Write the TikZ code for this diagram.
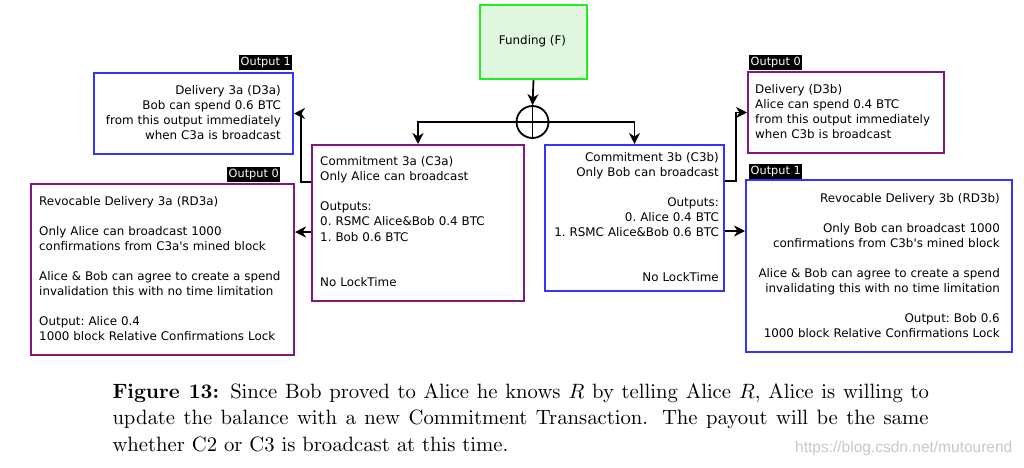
\documentclass[tikz,border=0pt]{standalone}
\usepackage{fontspec}
\newfontfamily\dv{DejaVu Sans}
\newfontfamily\wmfont{Liberation Sans}
\usetikzlibrary{arrows.meta}
\font\capr=cmr10 at 20.7pt
\font\capb=cmbx10 at 20.7pt
\font\capi=cmmi10 at 20.7pt
\definecolor{boxpurple}{RGB}{128,24,128}
\definecolor{boxblue}{RGB}{51,51,255}
\definecolor{boxgreen}{RGB}{34,238,34}
\definecolor{fundfill}{RGB}{223,247,223}
\definecolor{wmgray}{RGB}{200,200,200}
\begin{document}
\begin{tikzpicture}[x=1pt,y=-1pt,
  box/.style={draw, line width=2pt, inner sep=0pt, anchor=north west},
  pbox/.style={box, draw=boxpurple},
  bbox/.style={box, draw=boxblue},
  txt/.style={inner sep=0pt, font=\dv\fontsize{11.9}{15.1}\selectfont\frenchspacing, text width=#1},
  ltxt/.style={txt=#1, align=left, anchor=base west},
  rtxt/.style={txt=#1, align=right, anchor=base east},
  outlbl/.style={fill=black, text=white, inner xsep=1.5pt, inner ysep=1.5pt, text height=8.8pt, text depth=2.7pt, font=\dv\fontsize{11.3}{13}\selectfont, anchor=south west},
  conn/.style={line width=1.8pt, -{Stealth[length=11pt,width=11pt,inset=3.5pt]}},
]
\useasboundingbox (0,0) rectangle (1024,467);
\fill[white] (0,0) rectangle (1024,467);

% boxes
\node[box, draw=boxgreen, fill=fundfill, minimum width=107pt, minimum height=74pt] (fund) at (479,4) {};
\node[pbox, minimum width=212pt, minimum height=156pt] (c3a) at (311,144) {};
\node[bbox, minimum width=179pt, minimum height=146pt] (c3b) at (544,144) {};
\node[bbox, minimum width=199pt, minimum height=81pt] (d3a) at (93,72) {};
\node[pbox, minimum width=263pt, minimum height=171pt] (rd3a) at (30,183) {};
\node[pbox, minimum width=196pt, minimum height=81pt] (d3b) at (747,71) {};
\node[bbox, minimum width=266pt, minimum height=172pt] (rd3b) at (745,179) {};

% xor
\node[circle, draw, line width=1.8pt, minimum size=32pt, inner sep=0pt] (xor) at (532.5,122) {};
\draw[line width=1.8pt] (xor.north) -- (xor.south) (xor.west) -- (xor.east);

% output labels
\node[outlbl] (o1a) at (239,70) {Output 1};
\node[outlbl] (o0a) at (227,182) {Output 0};
\node[outlbl] (o0b) at (749,70) {Output 0};
\node[outlbl] (o1b) at (749,179) {Output 1};

% texts
\node[inner sep=0pt, font=\dv\fontsize{11.9}{15}\selectfont, anchor=base] (fundt) at (532.5,44) {Funding (F)};
\node[rtxt=200pt] (d3at) at (281,94) {Delivery 3a (D3a)\\Bob can spend 0.6 BTC\\from this output immediately\\when C3a is broadcast};
\node[ltxt=200pt] (c3at) at (320,165.5) {Commitment 3a (C3a)\\Only Alice can broadcast\\\mbox{}\\Outputs:\\0. RSMC Alice\&Bob 0.4 BTC\\1. Bob 0.6 BTC\\\mbox{}\\\mbox{}\\No LockTime};
\node[ltxt=250pt] (rd3at) at (39,205) {Revocable Delivery 3a (RD3a)\\\mbox{}\\Only Alice can broadcast 1000\\confirmations from C3a\textquotesingle s mined block\\\mbox{}\\Alice \& Bob can agree to create a spend\\invalidation this with no time limitation\\\mbox{}\\Output: Alice 0.4\\1000 block Relative Confirmations Lock};
\node[rtxt=175pt] (c3bt) at (719,161) {Commitment 3b (C3b)\\Only Bob can broadcast\\\mbox{}\\Outputs:\hspace*{3.5pt}\\0. Alice 0.4 BTC\\1. RSMC Alice\&Bob 0.6 BTC\\\mbox{}\\\mbox{}\\No LockTime};
\node[ltxt=190pt] (d3bt) at (755,93) {Delivery (D3b)\\Alice can spend 0.4 BTC\\from this output immediately\\when C3b is broadcast};
\node[rtxt=260pt] (rd3bt) at (1000,202) {Revocable Delivery 3b (RD3b)\\\mbox{}\\Only Bob can broadcast 1000\\confirmations from C3b\textquotesingle s mined block\\\mbox{}\\Alice \& Bob can agree to create a spend\\invalidating this with no time limitation\\\mbox{}\\Output: Bob 0.6\\1000 block Relative Confirmations Lock};

% connectors
\draw[conn] (fund.south) -- (xor.north);
\draw[conn] (xor.west) -| (c3a.north);
\draw[conn] (xor.east) -| (c3b.north);
\draw[conn] ([yshift=-38pt]c3a.north west) -- ++(-10,0) |- (d3a.east);
\draw[conn] ([yshift=-88pt]c3a.north west) coordinate (pa) -- (pa -| rd3a.east);
\draw[conn] ([yshift=-37pt]c3b.north east) -- ++(11,0) |- (d3b.west);
\draw[conn] ([yshift=-87pt]c3b.north east) coordinate (pb) -- (pb -| rd3b.west);

% caption
\node[inner sep=0pt, anchor=base west] (cap1) at (112.3,398) {\hbox to 816.7pt{\capr{\capb Figure 13:} Since Bob proved to Alice he knows {\capi R} by telling Alice {\capi R}, Alice is willing to}};
\node[inner sep=0pt, anchor=base west] (cap2) at (112.3,424.5) {\hbox to 816.7pt{\capr update the balance with a new Commitment Transaction. The payout will be the same}};
\node[inner sep=0pt, anchor=base west] (cap3) at (112.3,451) {\capr whether C2 or C3 is broadcast at this time.};
\node[inner sep=0pt, anchor=base west, text=wmgray, font=\wmfont\fontsize{15.5}{16}\selectfont] (wm) at (795,452.5) {https://blog.csdn.net/mutourend};
\end{tikzpicture}
\end{document}
